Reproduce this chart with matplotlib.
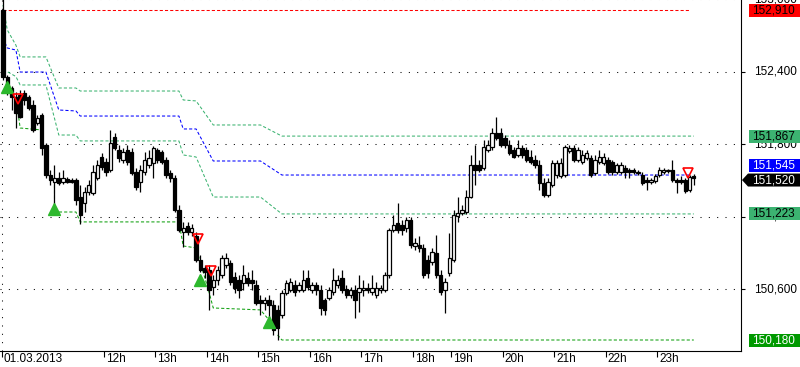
import numpy as np
import matplotlib
matplotlib.use('Agg')
import matplotlib.pyplot as plt
from matplotlib.patches import Polygon
from matplotlib.transforms import IdentityTransform

plt.rcParams['font.family'] = ['Liberation Sans', 'DejaVu Sans']

# M5 candles, 01.03.2013 (one value per bar)
open_ = [152910, 152356, 152265, 152191, 152207, 152224, 152191, 152124, 151976, 152042,
         151794, 151545, 151488, 151521, 151488, 151512, 151504, 151504, 151363, 151314,
         151405, 151397, 151521, 151694, 151653, 151587, 151860, 151752, 151670, 151752,
         151736, 151570, 151488, 151570, 151628, 151645, 151752, 151736, 151670, 151562,
         151521, 151256, 151074, 151124, 151074, 151041, 150842, 150776, 150760, 150619,
         150677, 150718, 150801, 150817, 150702, 150677, 150652, 150694, 150677, 150636,
         150512, 150487, 150512, 150470, 150429, 150388, 150569, 150594, 150636, 150594,
         150594, 150694, 150594, 150636, 150594, 150512, 150528, 150578, 150636, 150694,
         150603, 150553, 150594, 150578, 150594, 150611, 150578, 150553, 150594, 150594,
         150718, 151090, 151148, 151132, 151107, 151173, 150958, 150966, 150942, 150842,
         150826, 150900, 150718, 150594, 150735, 150842, 151206, 151231, 151239, 151363,
         151628, 151628, 151603, 151752, 151777, 151893, 151893, 151851, 151794, 151752,
         151711, 151769, 151752, 151694, 151670, 151628, 151479, 151380, 151463, 151545,
         151537, 151545, 151744, 151769, 151670, 151653, 151686, 151686, 151562, 151653,
         151645, 151670, 151653, 151570, 151570, 151603, 151587, 151587, 151562, 151545,
         151504, 151488, 151496, 151545, 151570, 151578, 151587, 151504, 151504, 151504,
         151421, 151537]
high = [153034, 152373, 152282, 152232, 152249, 152249, 152207, 152166, 152042, 152058,
        151810, 151587, 151628, 151570, 151587, 151529, 151521, 151521, 151463, 151446,
        151504, 151628, 151670, 151727, 151686, 151918, 151893, 151794, 151769, 151794,
        151769, 151603, 151628, 151736, 151752, 151785, 151769, 151752, 151694, 151587,
        151545, 151297, 151157, 151157, 151140, 151074, 150884, 150801, 150801, 150718,
        150793, 150884, 150900, 150842, 150743, 150718, 150801, 150743, 150760, 150677,
        150553, 150536, 150553, 150512, 150470, 150594, 150677, 150694, 150677, 150660,
        150760, 150760, 150660, 150660, 150636, 150528, 150619, 150776, 150718, 150760,
        150636, 150619, 150636, 150718, 150677, 150652, 150718, 150660, 150636, 150743,
        151107, 151215, 151314, 151173, 151198, 151198, 151024, 151041, 150975, 150884,
        150942, 151049, 150760, 150694, 151066, 151256, 151363, 151297, 151421, 151711,
        151794, 151670, 151835, 151835, 151934, 152025, 151934, 151876, 151835, 151777,
        151835, 151794, 151777, 151752, 151711, 151670, 151521, 151521, 151670, 151670,
        151686, 151794, 151794, 151794, 151777, 151752, 151752, 151711, 151711, 151752,
        151727, 151694, 151670, 151645, 151653, 151628, 151603, 151603, 151587, 151570,
        151529, 151521, 151554, 151612, 151603, 151595, 151670, 151521, 151537, 151521,
        151545, 151554]
low = [152331, 152207, 152083, 151934, 152017, 152124, 152083, 151901, 151959, 151711,
       151521, 151463, 151256, 151463, 151471, 151479, 151479, 151297, 151140, 151239,
       151380, 151380, 151504, 151587, 151537, 151570, 151752, 151653, 151645, 151628,
       151545, 151421, 151405, 151545, 151603, 151521, 151645, 151636, 151521, 151488,
       151239, 151074, 150950, 151049, 151041, 150826, 150743, 150694, 150429, 150553,
       150636, 150694, 150776, 150636, 150569, 150528, 150594, 150627, 150594, 150470,
       150388, 150429, 150346, 150222, 150181, 150363, 150553, 150578, 150545, 150578,
       150578, 150594, 150569, 150553, 150388, 150388, 150512, 150553, 150611, 150569,
       150528, 150528, 150363, 150412, 150545, 150569, 150553, 150528, 150569, 150578,
       150694, 151074, 151066, 151049, 151074, 150942, 150925, 150909, 150694, 150694,
       150801, 150694, 150553, 150404, 150710, 150826, 151157, 151215, 151223, 151355,
       151463, 151570, 151587, 151736, 151752, 151835, 151777, 151769, 151711, 151686,
       151694, 151686, 151653, 151636, 151603, 151421, 151363, 151363, 151446, 151521,
       151521, 151529, 151727, 151653, 151653, 151636, 151670, 151529, 151545, 151636,
       151628, 151554, 151545, 151554, 151554, 151521, 151521, 151554, 151545, 151463,
       151421, 151471, 151479, 151529, 151554, 151562, 151488, 151397, 151471, 151397,
       151405, 151463]
close = [152356, 152265, 152191, 152058, 152025, 152166, 152100, 151918, 152017, 151769,
         151545, 151504, 151521, 151479, 151521, 151488, 151488, 151339, 151215, 151405,
         151463, 151570, 151628, 151612, 151570, 151810, 151769, 151686, 151736, 151653,
         151562, 151446, 151587, 151670, 151686, 151769, 151670, 151653, 151545, 151521,
         151256, 151090, 151107, 151074, 151107, 150842, 150760, 150743, 150594, 150677,
         150760, 150859, 150859, 150660, 150611, 150594, 150718, 150652, 150652, 150487,
         150487, 150512, 150470, 150264, 150280, 150569, 150652, 150660, 150578, 150636,
         150677, 150619, 150636, 150594, 150445, 150429, 150594, 150677, 150677, 150594,
         150553, 150594, 150512, 150611, 150611, 150594, 150611, 150611, 150611, 150718,
         151090, 151132, 151090, 151090, 151173, 150966, 150983, 150942, 150718, 150735,
         150909, 150718, 150578, 150660, 150859, 151215, 151231, 151256, 151363, 151628,
         151587, 151587, 151777, 151794, 151893, 151851, 151794, 151794, 151727, 151694,
         151769, 151711, 151670, 151653, 151628, 151479, 151380, 151488, 151645, 151645,
         151645, 151777, 151769, 151670, 151752, 151711, 151727, 151545, 151670, 151694,
         151694, 151570, 151570, 151628, 151628, 151570, 151570, 151570, 151570, 151479,
         151488, 151504, 151537, 151587, 151587, 151587, 151504, 151488, 151488, 151413,
         151529, 151520]

# channel indicator (bar index, level)
chan_x = [0, 1, 3, 4, 10, 13, 17, 18, 41, 42, 45, 49, 60, 65, 161]
mid_y = [152679, 152596, 152579, 152397, 152397, 152083, 152075, 152033, 152033,
         151926, 151926, 151661, 151661, 151545, 151545]
upper_y = [152952, 152745, 152620, 152522, 152522, 152265, 152265, 152240, 152240,
           152166, 152158, 151959, 151959, 151867, 151867]
lower_y = [152414, 152400, 152360, 152290, 152290, 151876, 151876, 151827, 151827,
           151711, 151694, 151363, 151363, 151223, 151223]

# support steps
sup_x = [3, 4, 9, np.nan, 12, 12, 17, 18, 41, 42, 45, 48, 49, 60, 62, np.nan, 64, 65, 161]
sup_y = [152191, 151934, 151918, np.nan, 151504, 151239, 151239, 151157, 151157, 150958,
         150942, 150578, 150445, 150429, 150346, np.nan, 150222, 150180, 150180]

day_high = 152910

buy_x = [1, 12, 46, 62]
buy_y = [152273, 151264, 150677, 150330]
sell_x = [3.5, 45.5, 48.5, 159.7]
sell_y = [152174, 151016, 150751, 151562]

grid_levels = [153000, 152400, 151800, 151200, 150600]
tick_idx = [-0.3, 23.5, 35.5, 47.5, 59.5, 71.5, 83.5, 95.5, 104.5, 116.5, 128.5, 140.5, 152.5]
tick_lab = ['01.03.2013', '12h', '13h', '14h', '15h', '16h', '17h', '18h', '19h',
            '20h', '21h', '22h', '23h']

W, H = 800, 367
fig = plt.figure(figsize=(W / 100, H / 100), dpi=100)
ax = fig.add_axes([0, 16 / H, 741 / W, 351 / H])
ax.set_xlim(-0.7, 172.0)
ax.set_ylim(150089, 152993)

x = np.arange(len(close))
o = np.array(open_)
c = np.array(close)
ax.vlines(x, low, high, color='black', lw=0.9, zorder=3)
ax.bar(x, c - o, bottom=o, width=0.78,
       color=np.where(c >= o, 'white', 'black'), edgecolor='black', linewidth=0.9, zorder=4)

dots = (0, (1, 7))
dash = (0, (3, 2))
for v in grid_levels:
    ax.axhline(v, color='black', lw=0.75, ls=dots, zorder=1)
ax.axvline(tick_idx[0], color='black', lw=0.75, ls=dots, zorder=1)

ax.hlines(day_high, 0, len(close) - 2, color='red', lw=0.75, ls=dash, zorder=2)
ax.plot(chan_x[:-1] + [chan_x[-1] - 1], mid_y, color='blue', lw=0.75, ls=dash, zorder=2)
ax.plot(chan_x, upper_y, color='#3CB371', lw=0.75, ls=dash, zorder=2)
ax.plot(chan_x, lower_y, color='#3CB371', lw=0.75, ls=dash, zorder=2)
ax.plot(sup_x, sup_y, color='#11A011', lw=0.75, ls=dash, zorder=2)

ax.plot(buy_x, buy_y, ls='none', marker='^', ms=8, color='#2DB82D', zorder=6)
ax.plot(sell_x, sell_y, ls='none', marker='v', ms=7.5, mfc='none', mec='red', mew=1.2, zorder=6)

for s in ['top', 'left']:
    ax.spines[s].set_visible(False)
for s in ['right', 'bottom']:
    ax.spines[s].set_linewidth(0.8)

ax.set_xticks(tick_idx)
ax.tick_params(axis='x', direction='out', length=4.5, width=0.8, labelbottom=False)
ax.set_yticks(grid_levels[1:])
ax.tick_params(axis='y', left=False, right=True, direction='out', length=3, width=0.8,
               labelleft=False, labelright=False)

for t, lab in zip(tick_idx, tick_lab):
    ax.annotate(lab, xy=(t, 0), xycoords=('data', 'axes fraction'), xytext=(2, -2),
                textcoords='offset pixels', ha='left', va='top', fontsize=8.5,
                annotation_clip=False)
# price scale labels; two of them sit partly under the level tags, as in the original
for v in grid_levels:
    ax.annotate(f'{v:,}', xy=(1, v), xycoords=('axes fraction', 'data'), xytext=(13, 0),
                textcoords='offset pixels', ha='left', va='center', fontsize=8.5,
                annotation_clip=False)


def tag(v, fc, tc, dy=0, arrow=False):
    yc = ax.transData.transform((0, v))[1] + dy
    h = 6.5
    if arrow:
        pts = [(742, yc), (748, yc + h), (800, yc + h), (800, yc - h), (748, yc - h)]
    else:
        pts = [(749, yc - h), (749, yc + h), (800, yc + h), (800, yc - h)]
    fig.add_artist(Polygon(pts, closed=True, fc=fc, ec='none',
                           transform=IdentityTransform(), zorder=5))
    fig.text(752 / W, yc / H, f'{v:,}', ha='left', va='center', color=tc,
             fontsize=8.5, zorder=6)


tag(day_high, '#FF0000', 'black')
tag(upper_y[-1], '#3CB371', 'black')
tag(mid_y[-1], '#0000FF', 'white', dy=10)
tag(close[-1], 'black', 'white', dy=-2, arrow=True)
tag(lower_y[-1], '#3CB371', 'black')
tag(sup_y[-1], '#009900', 'white')

fig.savefig('out.png', dpi=100)
